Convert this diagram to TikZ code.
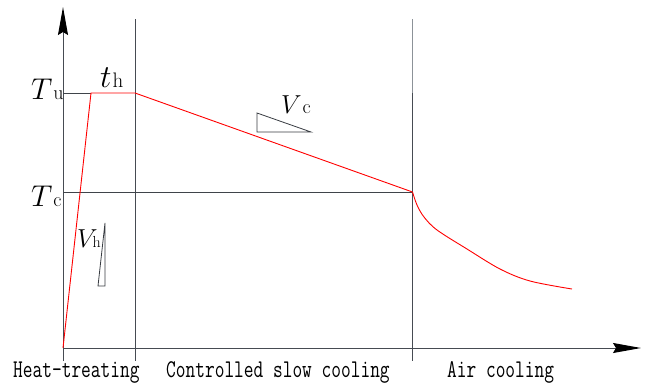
\RequirePackage{fix-cm}
\documentclass[tikz,border=0pt]{standalone}
\usepackage{fontspec}
\usetikzlibrary{arrows.meta}
\newfontfamily\labfont[FakeStretch=0.74]{Latin Modern Mono}
\definecolor{axiscol}{RGB}{70,75,82}
\definecolor{lightcol}{RGB}{140,146,152}
\definecolor{curvecol}{RGB}{255,0,0}
\begin{document}
\begin{tikzpicture}[x=1pt,y=-1pt,
  axisline/.style={draw=axiscol,line width=1pt},
  guide/.style={draw=axiscol!90!black,line width=0.9pt},
  redline/.style={draw=curvecol,line width=0.9pt},
  wedge/.style={draw=axiscol!80!black,line width=0.8pt},
  arrowtip/.style={-{Stealth[length=28pt,width=10pt,inset=3pt,color=black]}},
  phase/.style={font=\labfont\fontsize{25.5}{28}\selectfont,anchor=base west,inner sep=0pt,text=black},
  sym/.style={anchor=base west,inner sep=0pt,text=black}]
\useasboundingbox (0,0) rectangle (645,386);
% coordinates
\coordinate (o) at (63,348);
\coordinate (ybot) at (63,361);
\coordinate (ytop) at (63,7);
\coordinate (xend) at (641,348);
\coordinate (v1t) at (135,19);
\coordinate (v1b) at (135,361);
\coordinate (v2t) at (412.5,19);
\coordinate (v2m) at (412.5,93);
\coordinate (v2b) at (412.5,361);
\coordinate (tul) at (63,93);
\coordinate (tur) at (91,93);
\coordinate (hold) at (135,93);
\coordinate (tcl) at (63,192);
\coordinate (tcr) at (412.5,192);
% axes
\draw[axisline,arrowtip] (ybot) -- (ytop);
\draw[axisline,arrowtip] (o) -- (xend);
\draw[axisline] (v1t) -- (v1b);
\draw[draw=lightcol,line width=1pt] (v2t) -- (v2m);
\draw[axisline] (v2m) -- (v2b);
% guide lines
\draw[guide] (tul) -- (tur);
\draw[guide] (tcl) -- (tcr);
% red temperature curve
\draw[redline] (o) -- (tur) -- (hold) -- (tcr);
\draw[redline] plot[smooth,tension=0.55] coordinates
  {(412.5,192) (417,205) (424,217) (437,230) (467,249) (500,269) (530,281) (572,289)};
% slope wedges
\coordinate (vca) at (257,113);
\coordinate (vcb) at (257,132);
\coordinate (vcc) at (311,132);
\draw[wedge] (vca) -- (vcb) -- (vcc) -- cycle;
\coordinate (vha) at (105,223);
\coordinate (vhb) at (98,286);
\coordinate (vhc) at (105,286);
\draw[wedge] (vha) -- (vhb) -- (vhc) -- cycle;
% symbols
\node[sym] (Tu) at (31,99) {\fontsize{30}{32}\selectfont$T$\kern1pt\fontsize{20}{22}\selectfont u};
\node[sym] (Tc) at (31,206) {\fontsize{30}{32}\selectfont$T$\kern1pt\fontsize{20}{22}\selectfont c};
\node[sym] (th) at (100,87) {\fontsize{32}{34}\selectfont$t$\kern1pt\fontsize{21}{23}\selectfont h};
\node[sym] (Vc) at (281,113) {\fontsize{26}{30}\selectfont$V$\kern1pt\fontsize{20}{22}\selectfont c};
\node[sym] (Vh) at (77,247) {\fontsize{26}{30}\selectfont$V$\kern-5pt\fontsize{16}{18}\selectfont h};
% phase labels
\node[phase] (p1) at (13,377) {Heat-treating};
\node[phase] (p2) at (166,377) {Controlled slow cooling};
\node[phase] (p3) at (447,377) {Air cooling};
\end{tikzpicture}
\end{document}
